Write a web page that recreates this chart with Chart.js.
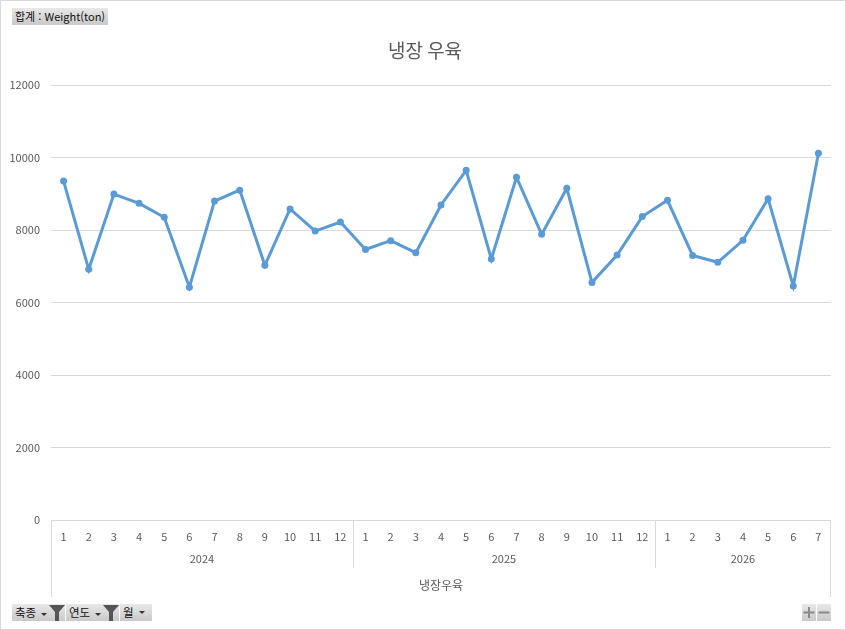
<!DOCTYPE html>
<html lang="ko">
<head>
<meta charset="utf-8">
<title>냉장 우육</title>
<script src="https://cdn.jsdelivr.net/npm/chart.js@4.4.1/dist/chart.umd.min.js"></script>
<style>
    html, body { margin: 0; padding: 0; background: #fff; }
    #wrap { position: relative; width: 846px; height: 630px; font-family: "Noto Sans CJK KR", "DejaVu Sans", sans-serif; }
    #frame { position: absolute; left: 0; top: 0; width: 844px; height: 628px; border: 1px solid #d9d9d9; pointer-events: none; }
    .btn {
        position: absolute; height: 17px; line-height: 17px; font-size: 11.5px; color: #111;
        background: linear-gradient(#e8e8e8, #c9c9c9); padding: 0 3px; box-sizing: border-box;
        white-space: nowrap;
    }
    .btn svg { vertical-align: top; }
</style>
</head>
<body>
<div id="wrap">
    <canvas id="chart" width="846" height="630"></canvas>
    <div id="frame"></div>
    <div class="btn" style="left:12px; top:8px; width:96px; font-size:11px;">합계 : Weight(ton)</div>
    <div class="btn" style="left:12px; top:604px; width:53px;">축종
        <svg width="10" height="17"><path d="M2 9 L8 9 L5 12 Z" fill="#333"/></svg><svg width="16" height="17"><path d="M0 1 L16 1 L10 8 L10 17 L6 17 L6 8 Z" fill="#555"/></svg>
    </div>
    <div class="btn" style="left:66px; top:604px; width:53px;">연도
        <svg width="10" height="17"><path d="M2 9 L8 9 L5 12 Z" fill="#333"/></svg><svg width="16" height="17"><path d="M0 1 L16 1 L10 8 L10 17 L6 17 L6 8 Z" fill="#555"/></svg>
    </div>
    <div class="btn" style="left:120px; top:604px; width:32px;">월
        <svg width="10" height="17"><path d="M2 7 L8 7 L5 10 Z" fill="#333"/></svg>
    </div>
    <div class="btn" style="left:802px; top:604px; width:14px; padding:0;">
        <svg width="14" height="17"><path d="M6 3 H8 V7.5 H12.5 V9.5 H8 V14 H6 V9.5 H1.5 V7.5 H6 Z" fill="#8a8a8a"/></svg>
    </div>
    <div class="btn" style="left:817px; top:604px; width:14px; padding:0;">
        <svg width="14" height="17"><rect x="1.5" y="7.5" width="11" height="2" fill="#8a8a8a"/></svg>
    </div>
</div>
<script>
// chart data
const chartTitle = '냉장 우육';
const axisTitle = '냉장우육';
const yearLabels = ['2024', '2025', '2026'];
const yearMonthCounts = [12, 12, 7];
const monthLabels = [
    '1', '2', '3', '4', '5', '6', '7', '8', '9', '10', '11', '12',
    '1', '2', '3', '4', '5', '6', '7', '8', '9', '10', '11', '12',
    '1', '2', '3', '4', '5', '6', '7'
];
const weights = [
    9350, 6915, 8990, 8735, 8350, 6420, 8800, 9100, 7025, 8580, 7970, 8220,
    7465, 7705, 7375, 8690, 9645, 7200, 9455, 7880, 9150, 6555, 7310, 8370,
    8820, 7300, 7110, 7715, 8865, 6455, 10115
];
const yTicks = { min: 0, max: 12000, step: 2000 };

const lineColor = '#5b9bd5';
const gridColor = '#d9d9d9';
const textColor = '#595959';
const fontFamily = '"Noto Sans CJK KR", "DejaVu Sans", sans-serif';

// draws the title, the year row, the axis title and the separator lines
const groupAxisPlugin = {
    id: 'groupAxis',
    afterDraw(chart) {
        const ctx = chart.ctx;
        const x = chart.scales.x;
        const area = chart.chartArea;
        const step = x.getPixelForValue(1) - x.getPixelForValue(0);

        ctx.save();
        ctx.fillStyle = textColor;
        ctx.textAlign = 'center';
        ctx.textBaseline = 'middle';
        ctx.font = '19px ' + fontFamily;
        ctx.fillText(chartTitle, (area.left + area.right) / 2 - 16, 51);

        ctx.strokeStyle = gridColor;
        ctx.lineWidth = 1;
        ctx.beginPath();
        ctx.moveTo(Math.round(x.left) + 0.5, area.bottom);
        ctx.lineTo(Math.round(x.left) + 0.5, 597);
        ctx.moveTo(Math.round(x.right) - 0.5, area.bottom);
        ctx.lineTo(Math.round(x.right) - 0.5, 597);

        ctx.font = '11px ' + fontFamily;
        let start = 0;
        yearLabels.forEach((year, i) => {
            const end = start + yearMonthCounts[i] - 1;
            const left = x.getPixelForValue(start) - step / 2;
            const right = x.getPixelForValue(end) + step / 2;
            ctx.fillText(year, (left + right) / 2, 559);
            if (i < yearLabels.length - 1) {
                ctx.moveTo(Math.round(right) + 0.5, area.bottom);
                ctx.lineTo(Math.round(right) + 0.5, 568);
            }
            start = end + 1;
        });
        ctx.stroke();

        ctx.font = '12px ' + fontFamily;
        ctx.fillText(axisTitle, (area.left + area.right) / 2, 585);
        ctx.restore();
    }
};

const ctx = document.getElementById('chart').getContext('2d');
new Chart(ctx, {
    type: 'line',
    data: {
        labels: monthLabels,
        datasets: [{
            label: '합계 : Weight(ton)',
            data: weights,
            borderColor: lineColor,
            backgroundColor: lineColor,
            borderWidth: 3,
            pointRadius: 3.5,
            pointHoverRadius: 3.5,
            pointBorderWidth: 0,
            tension: 0,
            fill: false
        }]
    },
    options: {
        responsive: false,
        animation: false,
        devicePixelRatio: 1,
        layout: { padding: { top: 85, right: 15, left: 0, bottom: 0 } },
        plugins: {
            legend: { display: false },
            title: { display: false },
            tooltip: { enabled: false }
        },
        scales: {
            x: {
                type: 'category',
                offset: true,
                grid: { display: false, drawTicks: false },
                border: { display: false },
                ticks: {
                    color: textColor,
                    font: { family: fontFamily, size: 11 },
                    padding: 10,
                    maxRotation: 0,
                    autoSkip: false
                },
                afterFit(scale) { scale.height = 110; }
            },
            y: {
                min: yTicks.min,
                max: yTicks.max,
                grid: { color: gridColor, drawTicks: false },
                border: { display: false },
                ticks: {
                    stepSize: yTicks.step,
                    color: textColor,
                    font: { family: fontFamily, size: 11 },
                    padding: 11,
                    callback: (value) => String(value)
                },
                afterFit(scale) { scale.width = 51; }
            }
        }
    },
    plugins: [groupAxisPlugin]
});
</script>
</body>
</html>
